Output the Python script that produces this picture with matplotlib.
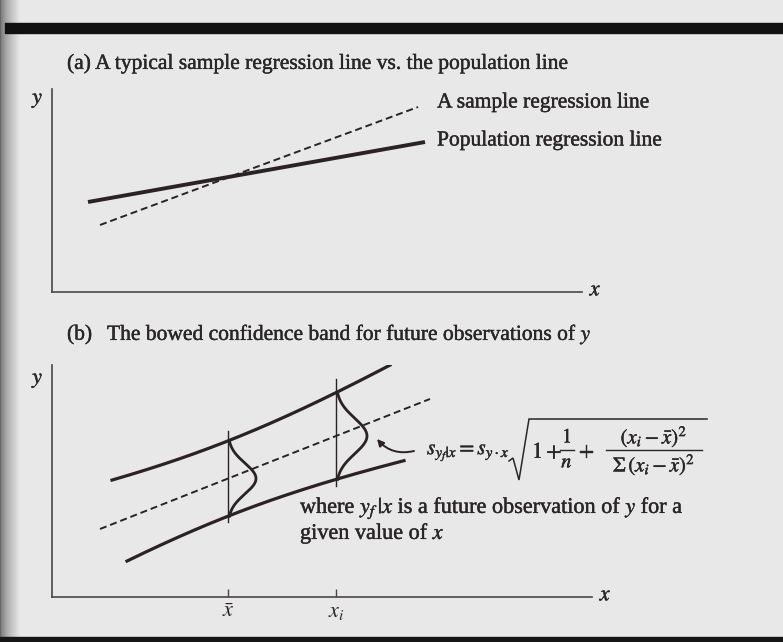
import numpy as np
import matplotlib.pyplot as plt
import matplotlib.patheffects as pe

plt.rcParams['font.family'] = ['Liberation Serif', 'DejaVu Serif']
plt.rcParams['mathtext.fontset'] = 'stix'

W, H = 783, 642

# (a) population line vs one sample line, axis units
pop_intercept, pop_slope = 83.6, 0.178
pop_x = [36, 373]
sample_intercept, sample_slope = 49.2, 0.371
sample_x = [48, 366]
line_labels = ['A sample regression line', 'Population regression line']

# (b) fitted line and prediction band
fit_intercept, fit_slope = 49.1, 0.394
fit_x = [48, 378]
x_bar = 176
x_i = 284
n_obs = 20
s_yx = 15.0
ss_x = 34000.0
band_mult = 2.45
upper_x = [60, 338]
lower_x = [75, 352]
bell_at = [x_bar, x_i]
bell_peak = [28, 31]
vline_bottom = [75, 111]
vline_top = [166, 218]
tick_labels = [r'$\bar{x}$', r'$x_i$']

ink = '#2b2323'
axis_ink = '#4d4545'
text_ink = '#2a2626'
heavy = [pe.withStroke(linewidth=0.3, foreground=text_ink)]
FS = 15.5


def px(x, y):
    return x / W, 1 - y / H


def label(x, y, s, size=FS, **kw):
    kw.setdefault('va', 'center')
    return fig.text(*px(x, y), s, fontsize=size, color=text_ink, path_effects=heavy, **kw)


def px_axes(fig, left, top, right, bottom):
    ax = fig.add_axes([left / W, 1 - bottom / H, (right - left) / W, (bottom - top) / H])
    ax.patch.set_visible(False)
    for side in ['top', 'right']:
        ax.spines[side].set_visible(False)
    for side in ['left', 'bottom']:
        ax.spines[side].set_color(axis_ink)
        ax.spines[side].set_linewidth(1.2)
    ax.set_xticks([])
    ax.set_yticks([])
    return ax


def half_width(x):
    return band_mult * s_yx * np.sqrt(1 + 1 / n_obs + (x - x_bar) ** 2 / ss_x)


fig = plt.figure(figsize=(W / 100, H / 100), dpi=100)

# page background with the shadow along the binding
bg = fig.add_axes([0, 0, 1, 1])
bg.set_axis_off()
shade = np.full((H, W), 0.91)
cols = np.arange(W)
edge = np.clip(cols / 20.0, 0, 1)
shade = shade * (0.45 + 0.55 * edge ** 0.6)[None, :]
bg.imshow(shade, cmap='gray', vmin=0, vmax=1, extent=[0, W, H, 0], aspect='auto')
bg.fill_between([5, W], 23, 33, color='#111111')
bg.fill_between([0, W], 637, H, color='#161616')
bg.set_xlim(0, W)
bg.set_ylim(H, 0)

# ---- panel (a)
label(67, 64, '(a) A typical sample regression line vs. the population line')
ax_a = px_axes(fig, 52, 89, 582, 292)
ax_a.set_xlim(0, 530)
ax_a.set_ylim(0, 203)
xs = np.array(pop_x)
ax_a.plot(xs, pop_intercept + pop_slope * xs, color=ink, lw=2.8, solid_capstyle='butt')
xs = np.array(sample_x)
ax_a.plot(xs, sample_intercept + sample_slope * xs, color=ink, lw=1.4, dashes=(3.6, 2))
label(437, 103, line_labels[0])
label(437, 141, line_labels[1])
label(38, 101, r'$y$', 16, ha='center')
label(596, 291, r'$x$', 16, ha='center')

# ---- panel (b)
label(67, 335, '(b)')
label(107, 335, 'The bowed confidence band for future observations of $y$')
ax_b = px_axes(fig, 52, 365, 592, 597)
ax_b.set_xlim(0, 540)
ax_b.set_ylim(0, 232)

xs = np.array(fit_x)
ax_b.plot(xs, fit_intercept + fit_slope * xs, color=ink, lw=1.4, dashes=(3.6, 2))
xs = np.linspace(upper_x[0], upper_x[1], 200)
ax_b.plot(xs, fit_intercept + fit_slope * xs + half_width(xs), color=ink, lw=2.3)
xs = np.linspace(lower_x[0], lower_x[1], 200)
ax_b.plot(xs, fit_intercept + fit_slope * xs - half_width(xs), color=ink, lw=2.3)

for xv, peak, lo, hi in zip(bell_at, bell_peak, vline_bottom, vline_top):
    ax_b.plot([xv, xv], [lo, hi], color=ink, lw=1.0)
    centre = fit_intercept + fit_slope * xv
    w = half_width(xv)
    ys = np.linspace(-w, w, 200)
    sd = w / band_mult
    ax_b.plot(xv + peak * np.exp(-0.5 * (ys / sd) ** 2), centre + ys, color=ink, lw=2.0)

ax_b.set_xticks(bell_at)
ax_b.set_xticklabels(tick_labels, fontsize=16, color=text_ink)
ax_b.tick_params(axis='x', direction='in', length=6, width=1.0, color=axis_ink, pad=4)

label(38, 381, r'$y$', 16, ha='center')
label(606, 596, r'$x$', 16, ha='center')

# prediction standard error, set piece by piece so the fractions stay full size
label(427, 453, r'$s_{y_f|x} = s_{y\cdot x}$', 15.5)
bg.plot([509, 513, 519, 529, 707], [461, 458, 480, 419, 419], color=text_ink, lw=1.1,
        solid_joinstyle='miter')
label(532, 453, r'$1+$', 16)
label(567, 438, r'$1$', 14.5, ha='center')
bg.plot([560, 574], [450, 450], color=text_ink, lw=1.0)
label(567, 463, r'$n$', 14.5, ha='center')
label(587, 453, r'$+$', 16, ha='center')
label(654, 437, r'$(x_i - \bar{x})^2$', 15, ha='center')
bg.plot([606, 702], [450, 450], color=text_ink, lw=1.0)
label(654, 465, r'$\Sigma\,(x_i - \bar{x})^2$', 15, ha='center')

label(300, 513, r'where $y_f\,|x$ is a future observation of $y$ for a', 16, va='baseline')
label(300, 539, r'given value of $x$', 16, va='baseline')

bg.annotate('', xy=(377, 439), xytext=(414, 451), xycoords='data', textcoords='data',
            arrowprops=dict(arrowstyle='-|>', color=ink, lw=1.4, mutation_scale=10,
                            connectionstyle='arc3,rad=-0.3', shrinkA=0, shrinkB=0))

fig.savefig('out.png', dpi=100)
